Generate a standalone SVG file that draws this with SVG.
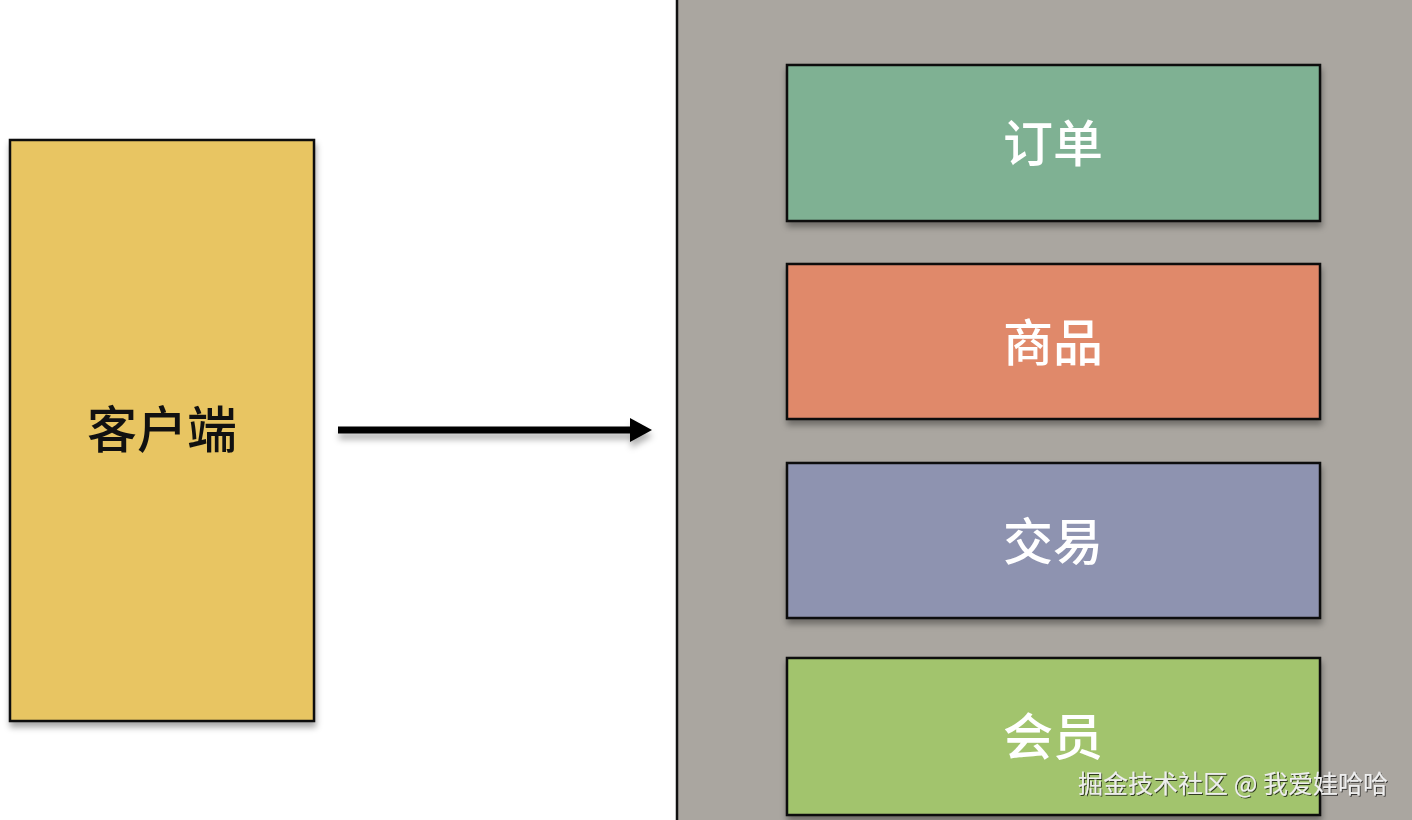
<svg xmlns="http://www.w3.org/2000/svg" width="1412" height="820" viewBox="0 0 1412 820">
<defs>
<filter id="sh" x="-10%" y="-10%" width="120%" height="130%">
<feDropShadow dx="1" dy="5" stdDeviation="3" flood-color="#000" flood-opacity="0.35"/>
</filter>
<filter id="ash" filterUnits="userSpaceOnUse" x="320" y="400" width="360" height="70">
<feDropShadow dx="1" dy="6" stdDeviation="3" flood-color="#000" flood-opacity="0.3"/>
</filter>
<filter id="tsh" x="-5%" y="-20%" width="110%" height="150%">
<feDropShadow dx="1" dy="1" stdDeviation="0.6" flood-color="#000" flood-opacity="0.7"/>
</filter>
</defs>
<style>
.box{stroke:#111;stroke-width:2.5;filter:url(#sh)}
.lbl{font-family:"Noto Sans CJK SC","Noto Sans",sans-serif;font-size:50px;font-weight:500;text-anchor:middle;dominant-baseline:central}
.w{fill:#fff}
</style>
<rect x="0" y="0" width="1412" height="820" fill="#fff"/>
<g id="container">
<rect x="677" y="-10" width="760" height="840" fill="#aaa6a0" stroke="#111" stroke-width="2.5"/>
</g>
<g id="client">
<rect class="box" x="10" y="140" width="304" height="581" fill="#e8c562"/>
<text class="lbl" x="162" y="426" fill="#111">客户端</text>
</g>
<g id="order">
<rect class="box" x="787" y="65" width="533" height="156" fill="#7fb193"/>
<text class="lbl w" x="1053" y="140">订单</text>
</g>
<g id="product">
<rect class="box" x="787" y="264" width="533" height="155" fill="#e0896b"/>
<text class="lbl w" x="1053" y="339">商品</text>
</g>
<g id="trade">
<rect class="box" x="787" y="463" width="533" height="155" fill="#8e93b0"/>
<text class="lbl w" x="1053" y="538">交易</text>
</g>
<g id="member">
<rect class="box" x="787" y="658" width="533" height="157" fill="#a2c46d"/>
<text class="lbl w" x="1053" y="733">会员</text>
</g>
<g id="connectors" filter="url(#ash)">
<line x1="338" y1="430" x2="632" y2="430" stroke="#000" stroke-width="7"/>
<path d="M630,418 L652,430 L630,442 Z" fill="#000"/>
</g>
<text x="1233" y="793" font-family="Noto Sans CJK SC,sans-serif" font-size="25" fill="#eeeeee" text-anchor="middle" filter="url(#tsh)">掘金技术社区 @ 我爱娃哈哈</text>
</svg>
